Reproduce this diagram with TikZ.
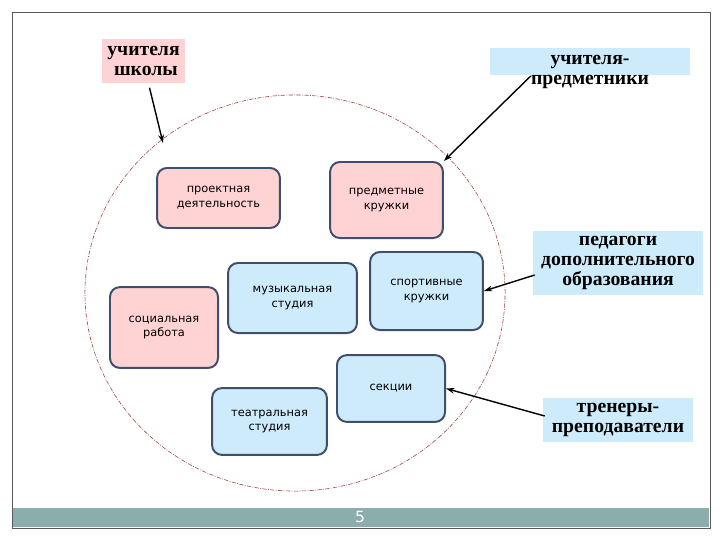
\documentclass[tikz,border=0pt]{standalone}
\usepackage{fontspec}
\setmainfont{Liberation Serif}
\newfontfamily\boxfont{DejaVu Sans}
\usepackage{tikz}
\usetikzlibrary{arrows.meta,calc}
\definecolor{boxpink}{HTML}{FFD3D3}
\definecolor{boxblue}{HTML}{CDEBFB}
\definecolor{boxedge}{HTML}{3E4E6C}
\definecolor{labelpink}{HTML}{FFD3D6}
\definecolor{labelblue}{HTML}{CDEBFB}
\definecolor{ringred}{HTML}{A03A3A}
\definecolor{barteal}{HTML}{8BADAC}

\begin{document}
\begin{tikzpicture}[x=0.025cm,y=-0.025cm,
    activity/.style={draw=boxedge,line width=1.4pt,rounded corners=7pt,align=center,
      font=\boxfont\fontsize{8.1}{10.6}\selectfont,inner sep=0pt},
    pinkbox/.style={activity,fill=boxpink},
    bluebox/.style={activity,fill=boxblue},
    who/.style={align=center,font=\bfseries\fontsize{14}{14.2}\selectfont,inner sep=0pt},
    pointer/.style={-{Stealth[length=6pt,width=4pt]},line width=1pt,black}]
    \useasboundingbox (0,0) rectangle (720,540);
    % slide frame and footer
    \draw[gray!70!black,line width=0.7pt] (12,12) rectangle (710,528);
    \fill[barteal] (13,508) rectangle (709,527);
    \node[text=white,font=\boxfont\fontsize{11}{11}\selectfont] (page) at (360,517) {5};
    % ring of the school
    \draw[ringred,line width=0.4pt,dash pattern=on 3pt off 1pt on 0.6pt off 1pt]
      (295,293) ellipse [x radius=5.25cm,y radius=4.95cm];
    \coordinate (ringtop) at (163,143);
    % activities
    \node[pinkbox,minimum width=3.07cm,minimum height=1.5cm] (proj) at (218.5,198) {проектная\\деятельность};
    \node[pinkbox,minimum width=2.82cm,minimum height=1.9cm] (subj) at (386.5,200) {предметные\\кружки};
    \node[bluebox,minimum width=3.22cm,minimum height=1.75cm] (music) at (292.5,298) {музыкальная\\студия};
    \node[bluebox,minimum width=2.82cm,minimum height=1.95cm] (sport) at (426.5,291) {спортивные\\кружки};
    \node[pinkbox,minimum width=2.7cm,minimum height=2.02cm] (social) at (164,327.5) {социальная\\работа};
    \node[bluebox,minimum width=2.7cm,minimum height=1.67cm] (sect) at (391,388.5) {секции};
    \node[bluebox,minimum width=2.87cm,minimum height=1.67cm] (theatre) at (269.5,421.5) {театральная\\студия};
    % who leads them
    \node[who,fill=labelpink,minimum width=2.07cm,minimum height=1.12cm] (teach) at (143.5,61) {учителя\\\ школы};
    \fill[labelblue] (490,48) rectangle (690,75);
    \node[who] (subjt) at (590,72) {учителя-\\предметники};
    \node[who,fill=labelblue,minimum width=4.25cm,minimum height=1.62cm] (ped) at (618,263) {педагоги\\дополнительного\\образования};
    \node[who,fill=labelblue,minimum width=3.75cm,minimum height=1.12cm] (coach) at (618,420) {тренеры-\\преподаватели};
    % arrows
    \draw[pointer] (teach.south) ++(6,4) -- (ringtop);
    \draw[pointer] (subjt.west) ++(0,4) -- (subj.north east);
    \draw[pointer] (ped.west) ++(2,12) -- (sport.east);
    \draw[pointer] (coach.west) ++(2,-4) -- (sect.east);
\end{tikzpicture}
\end{document}
